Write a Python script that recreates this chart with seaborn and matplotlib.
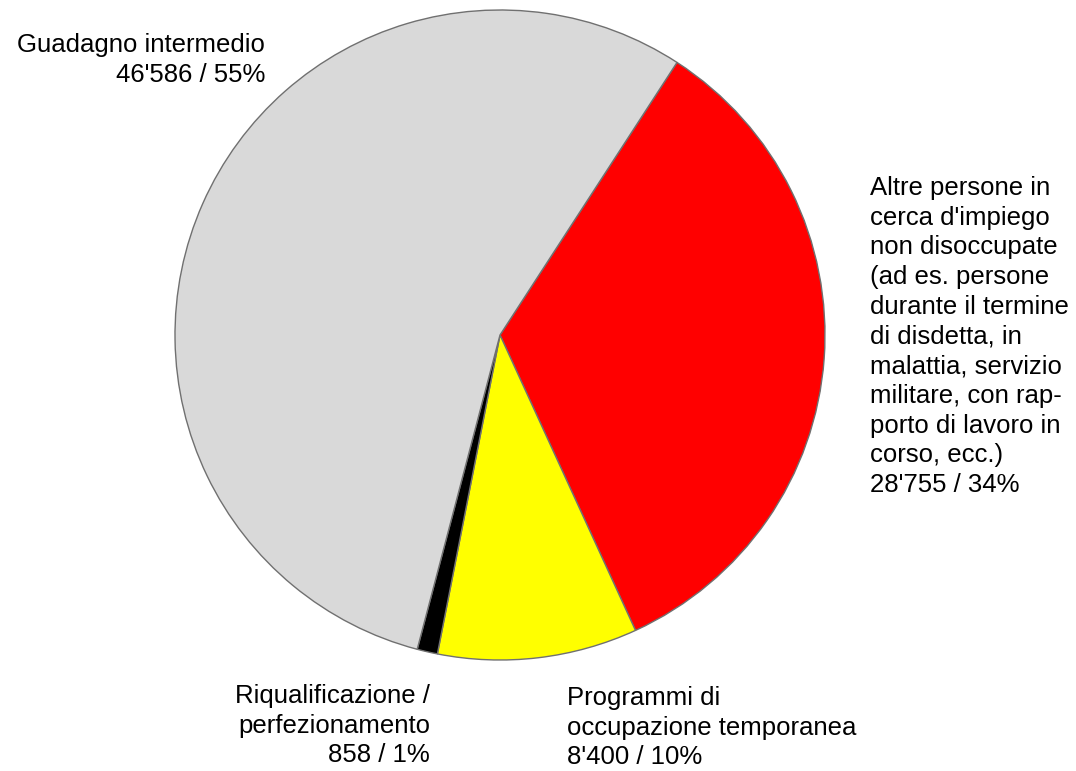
import matplotlib
matplotlib.use("Agg")
import matplotlib.pyplot as plt
import seaborn as sns

sns.set_theme(style="white")
plt.rcParams['font.family'] = ['Liberation Sans', 'DejaVu Sans']

categories = [
    "Altre persone in\ncerca d'impiego\nnon disoccupate\n(ad es. persone\ndurante il termine\ndi disdetta, in\nmalattia, servizio\nmilitare, con rap-\nporto di lavoro in\ncorso, ecc.)",
    "Programmi di\noccupazione temporanea",
    "Riqualificazione /\nperfezionamento",
    "Guadagno intermedio",
]
values = [28755, 8400, 858, 46586]
value_labels = ["28'755", "8'400", "858", "46'586"]
percent_labels = ["34%", "10%", "1%", "55%"]
colors = ["#ff0000", "#ffff00", "#000000", "#d9d9d9"]

W, H = 1076, 771
fig = plt.figure(figsize=(W / 100, H / 100), dpi=100)
ax = fig.add_axes([0, 0, 1, 1])
ax.set_xlim(0, W)
ax.set_ylim(0, H)
ax.set_aspect("equal")
ax.axis("off")

cx, cy, r = 500, H - 335, 325
ax.pie(values, colors=colors, startangle=57, counterclock=False,
       center=(cx, cy), radius=r,
       wedgeprops=dict(edgecolor="#707070", linewidth=1.0))
ax.set_xlim(0, W)
ax.set_ylim(0, H)

# label placements: (x, y_top, ha)
placements = [
    (870, H - 176, "left"),
    (567, H - 686, "left"),
    (430, H - 684, "right"),
    (265, H - 33, "right"),
]
for cat, v, p, (x, y, ha) in zip(categories, value_labels, percent_labels, placements):
    ax.text(x, y, f"{cat}\n{v} / {p}", ha=ha, va="top", multialignment=ha,
            fontsize=18.5, linespacing=1.3, color="black")

fig.savefig("out.png", dpi=100)
